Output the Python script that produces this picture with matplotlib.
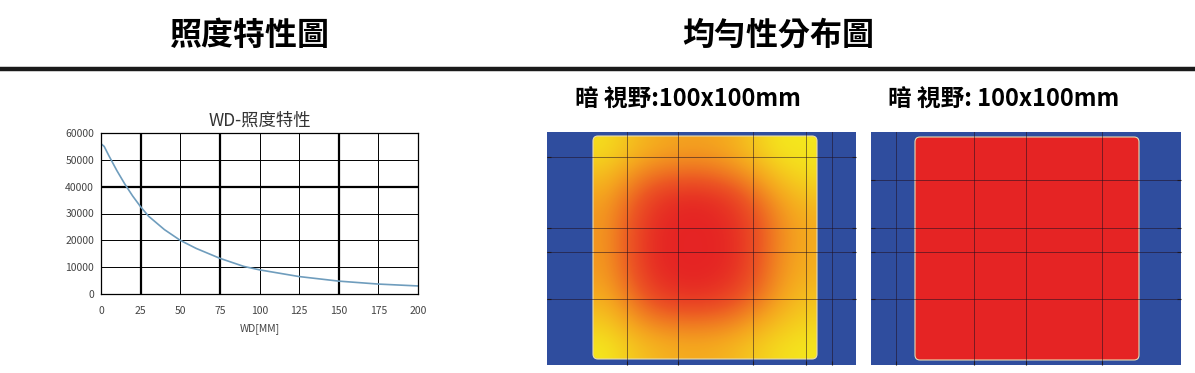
import numpy as np
import matplotlib
matplotlib.use('Agg')
import matplotlib.pyplot as plt
from matplotlib.colors import LinearSegmentedColormap
from matplotlib.patches import FancyBboxPatch

plt.rcParams['font.family'] = ['Noto Sans CJK TC', 'DejaVu Sans']

# DATA
# WD-照度特性 krivka
wd = [0, 2, 5, 10, 15, 20, 25, 30, 40, 50, 60, 75, 90, 100, 125, 150, 175, 200]
lux = [56000, 55000, 51500, 46000, 41000, 36500, 32500, 29000, 24000, 20000,
       17000, 13300, 10300, 9000, 6500, 4800, 3700, 3000]
x_ticks = [0, 25, 50, 75, 100, 125, 150, 175, 200]
y_ticks = [0, 10000, 20000, 30000, 40000, 50000, 60000]
thick_x = [25, 75, 150]
thick_y = [40000]

# rozlozeni intenzity - 0 = zluta, 1 = cervena
uniform_left = np.array([
    [0.05, 0.20, 0.30, 0.35, 0.35, 0.30, 0.15, 0.00, 0.00],
    [0.20, 0.40, 0.55, 0.60, 0.60, 0.50, 0.35, 0.15, 0.05],
    [0.35, 0.60, 0.85, 0.95, 0.95, 0.85, 0.60, 0.35, 0.20],
    [0.40, 0.70, 0.95, 1.00, 1.00, 0.95, 0.75, 0.45, 0.30],
    [0.40, 0.72, 0.97, 1.00, 1.00, 0.97, 0.75, 0.45, 0.30],
    [0.38, 0.68, 0.95, 1.00, 1.00, 0.95, 0.72, 0.42, 0.28],
    [0.30, 0.55, 0.80, 0.90, 0.90, 0.80, 0.60, 0.35, 0.20],
    [0.15, 0.35, 0.50, 0.55, 0.55, 0.50, 0.35, 0.20, 0.10],
    [0.00, 0.15, 0.25, 0.30, 0.30, 0.25, 0.15, 0.05, 0.00],
])
uniform_right = np.array([[1.0, 1.0], [1.0, 1.0]])

header_left = '照度特性圖'
header_right = '均勻性分布圖'
chart_title = 'WD-照度特性'
sub_title_left = '暗 視野:100x100mm'
sub_title_right = '暗 視野: 100x100mm'

# LAYOUT (pixely)
W, H = 1195, 373
blue = '#2f4d9e'
cmap = LinearSegmentedColormap.from_list(
    'yor', [(0.0, '#f5e61d'), (0.35, '#f4a21f'), (0.7, '#ec5623'), (1.0, '#e52424')])


def px_axes(fig, x0, y0, x1, y1):
    return fig.add_axes([x0 / W, 1 - y1 / H, (x1 - x0) / W, (y1 - y0) / H])


fig = plt.figure(figsize=(W / 100, H / 100), dpi=100)

# hlavicky a cara
fig.text(250 / W, 1 - 36 / H, header_left, ha='center', va='center',
         fontsize=23, fontweight='bold')
fig.text(778 / W, 1 - 36 / H, header_right, ha='center', va='center',
         fontsize=23, fontweight='bold')
fig.add_artist(plt.Line2D([0, 1], [1 - 68.5 / H] * 2, color='#1a1a1a', lw=3.2,
                          transform=fig.transFigure))

# graf vlevo
ax = px_axes(fig, 101, 133, 418, 294)
ax.plot(wd, lux, color='#6f9dbd', lw=1.2)
ax.set_xlim(0, 200)
ax.set_ylim(0, 60000)
ax.set_xticks(x_ticks)
ax.set_yticks(y_ticks)
ax.set_xticklabels([str(v) for v in x_ticks], fontsize=7.5, color='#444', fontweight='medium')
ax.set_yticklabels([str(v) for v in y_ticks], fontsize=7.5, color='#444', fontweight='medium')
ax.tick_params(axis='x', length=0, pad=9)
ax.tick_params(axis='y', length=0, pad=5)
for v in x_ticks[1:-1]:
    ax.axvline(v, color='black', lw=1.6 if v in thick_x else 0.7, zorder=0)
for v in y_ticks[1:-1]:
    ax.axhline(v, color='black', lw=1.6 if v in thick_y else 0.7, zorder=0)
for s in ax.spines.values():
    s.set_linewidth(0.9)
ax.set_title(chart_title, fontsize=12.5, color='#333', pad=5)
ax.set_xlabel('WD[MM]', fontsize=7.5, color='#444', labelpad=5, fontweight='medium')


def heat_panel(x0, x1, data, inner, vgrid, hgrid, sub, sub_x):
    axh = px_axes(fig, x0, 132, x1, 365)
    axh.set_facecolor(blue)
    w = x1 - x0
    axh.set_xlim(0, w)
    axh.set_ylim(233, 0)
    ix0, iy0, ix1, iy1 = inner
    box = FancyBboxPatch((ix0, iy0), ix1 - ix0, iy1 - iy0,
                         boxstyle='round,pad=0,rounding_size=5',
                         facecolor='none', edgecolor='#e8dcb0', lw=0.8, zorder=3)
    axh.add_patch(box)
    im = axh.imshow(data, cmap=cmap, vmin=0, vmax=1, extent=(ix0, ix1, iy1, iy0),
                    interpolation='bicubic', aspect='auto', zorder=2)
    im.set_clip_path(box)
    for v in vgrid:
        axh.axvline(v, color='#201020', lw=0.7, alpha=0.55, zorder=4)
    for v in hgrid:
        axh.axhline(v, color='#201020', lw=0.7, alpha=0.55, zorder=4)
    axh.set_xticks(vgrid)
    axh.set_yticks(hgrid)
    axh.tick_params(direction='in', length=3, color='#222', labelleft=False,
                    labelbottom=False, right=True)
    for s in axh.spines.values():
        s.set_visible(False)
    fig.text(sub_x / W, 1 - 100 / H, sub, ha='left', va='center',
             fontsize=17, fontweight='bold')


heat_panel(547, 856, uniform_left, (46, 4, 270, 227),
           [80, 131, 206, 259, 285], [25, 96, 120, 167], sub_title_left, 575)
heat_panel(871, 1181, uniform_right, (44, 5, 268, 228),
           [25, 103, 155, 231], [48, 96, 120, 167], sub_title_right, 888)

fig.savefig('out.png', dpi=100)
